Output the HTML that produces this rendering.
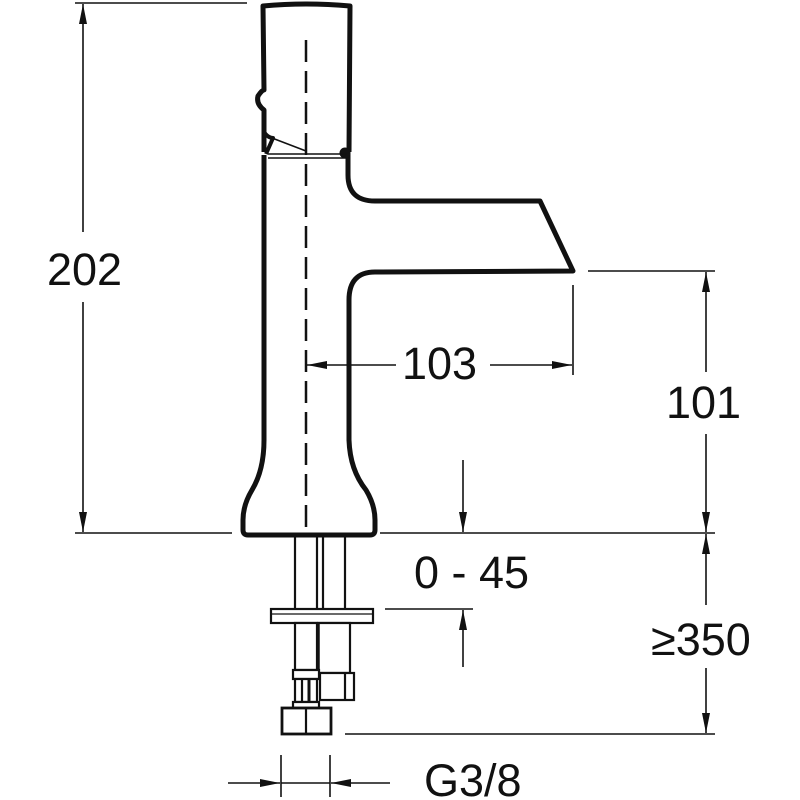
<!DOCTYPE html>
<html><head><meta charset="utf-8"><style>html,body{margin:0;padding:0;background:#fff}svg{display:block}</style></head>
<body>
<svg width="800" height="800" viewBox="0 0 800 800" xmlns="http://www.w3.org/2000/svg" font-family="Liberation Sans, Arial, sans-serif">
<defs>
<marker id="a" viewBox="0 0 20 8" refX="20" refY="4" markerWidth="20" markerHeight="8" markerUnits="userSpaceOnUse" orient="auto"><path d="M0,0 L20,4 L0,8 Z" fill="#111"/></marker>
</defs>
<g fill="none" stroke="#111" stroke-width="5" stroke-linejoin="round">
<!-- top cap -->
<path d="M264,152 L264,110 Q256,104 258,96 Q262,90 264,90 L263,6 Q306,2 350,6 L349,152"/>
<path d="M264,132 Q268,138 273,138 L266,154" stroke-width="4"/>
<!-- lower body + spout -->
<path d="M264,155 L264,440 Q264,470 252,490 Q243,505 243,520 L243,530 Q243,535 248,535 L370,535 Q375,535 375,530 L375,520 Q375,505 366,490 Q350,470 349,440 L349,300 Q349,272 375,272 L573,271 L540,201 L375,201 Q348,201 348,175 L348,153"/>
<circle cx="345" cy="153" r="3" fill="#111"/>
</g>
<g stroke="#111" stroke-width="1.6" fill="none">
<line x1="268" y1="154" x2="347" y2="154"/>
<line x1="268" y1="158" x2="347" y2="158"/>
<line x1="272" y1="138" x2="306" y2="151"/>
<line x1="306" y1="40" x2="306" y2="533" stroke-dasharray="22,9" stroke-width="2.5"/>
<!-- 202 -->
<line x1="75" y1="3" x2="247" y2="3"/>
<line x1="75" y1="533" x2="232" y2="533"/>
<line x1="83" y1="232" x2="83" y2="4" marker-end="url(#a)"/>
<line x1="83" y1="302" x2="83" y2="532" marker-end="url(#a)"/>
<!-- 103 -->
<line x1="573" y1="285" x2="573" y2="375"/>
<line x1="396" y1="365" x2="307" y2="365" marker-end="url(#a)"/>
<line x1="490" y1="365" x2="572" y2="365" marker-end="url(#a)"/>
<!-- 101 -->
<line x1="588" y1="271" x2="715" y2="271"/>
<line x1="380" y1="533" x2="715" y2="533"/>
<line x1="706" y1="372" x2="706" y2="272" marker-end="url(#a)"/>
<line x1="706" y1="434" x2="706" y2="532" marker-end="url(#a)"/>
<!-- 0-45 -->
<line x1="463" y1="460" x2="463" y2="532" marker-end="url(#a)"/>
<line x1="385" y1="609" x2="473" y2="609"/>
<line x1="463" y1="667" x2="463" y2="610" marker-end="url(#a)"/>
<!-- 350 -->
<line x1="706" y1="605" x2="706" y2="534" marker-end="url(#a)"/>
<line x1="706" y1="668" x2="706" y2="733" marker-end="url(#a)"/>
<line x1="345" y1="734" x2="715" y2="734"/>
<!-- G3/8 -->
<line x1="281" y1="755" x2="281" y2="797"/>
<line x1="330" y1="755" x2="330" y2="797"/>
<line x1="228" y1="783" x2="280" y2="783" marker-end="url(#a)"/>
<line x1="281" y1="783" x2="330" y2="783"/>
<line x1="390" y1="783" x2="331" y2="783" marker-end="url(#a)"/>
</g>
<!-- pipes -->
<g stroke="#111" stroke-width="2.2" fill="#fff">
<line x1="295" y1="536" x2="295" y2="609"/>
<line x1="317" y1="536" x2="317" y2="609"/>
<line x1="323" y1="536" x2="323" y2="609"/>
<line x1="345" y1="536" x2="345" y2="609"/>
<rect x="271" y="609" width="102" height="14"/>
<line x1="271" y1="614" x2="373" y2="614" stroke-width="1.2"/>
<rect x="295" y="623" width="22" height="47"/>
<rect x="318" y="623" width="32" height="50"/>
<line x1="318" y1="623" x2="318" y2="673" stroke-width="3.5"/>
<rect x="320" y="673" width="34" height="27"/>
<line x1="345" y1="673" x2="345" y2="700"/>
<rect x="293" y="670" width="26" height="9"/>
<rect x="295" y="679" width="22" height="23"/>
<line x1="302" y1="679" x2="302" y2="702"/>
<line x1="309" y1="679" x2="309" y2="702" stroke-width="3"/>
<rect x="293" y="702" width="26" height="6"/>
<rect x="282" y="708" width="49" height="26" stroke-width="2.8"/>
<line x1="306" y1="708" x2="306" y2="734"/>
</g>
<g font-size="45" fill="#111">
<text x="47" y="285">202</text>
<text x="402" y="379">103</text>
<text x="666" y="418">101</text>
<text x="414" y="588">0 - 45</text>
<text x="651" y="655">≥350</text>
<text x="424" y="796">G3/8</text>
</g>
</svg>
</body></html>
